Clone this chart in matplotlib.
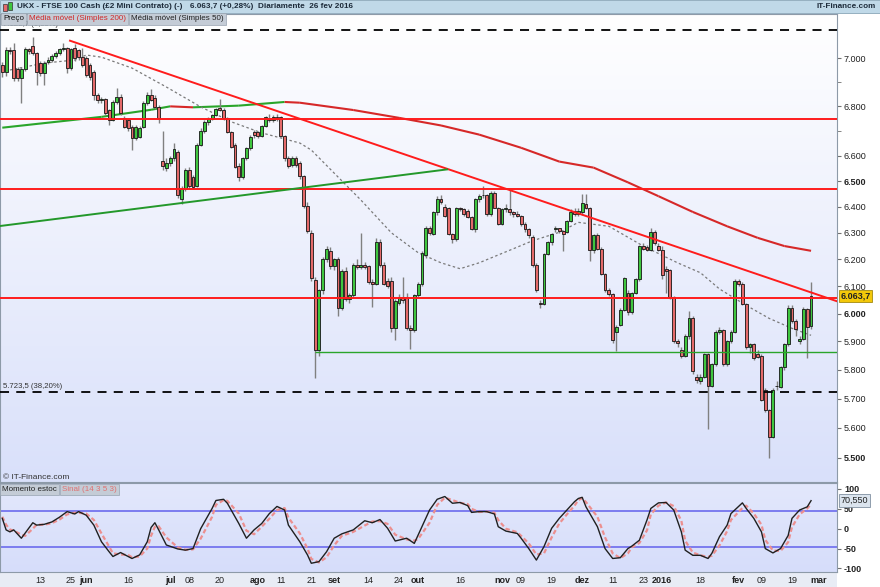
import numpy as np
import pandas as pd
import matplotlib
matplotlib.use("Agg")
import matplotlib.pyplot as plt
from matplotlib.collections import LineCollection
from matplotlib.colors import LinearSegmentedColormap
from matplotlib.patches import Rectangle
from matplotlib.ticker import FixedLocator, NullFormatter

plt.rcParams['font.family'] = ['Liberation Sans', 'DejaVu Sans']

# trading calendar of the CFD (UK bank holidays have no candle)
uk_holidays = ['2015-05-04', '2015-05-25', '2015-08-31', '2015-12-25', '2015-12-28', '2016-01-01']
cal = pd.bdate_range('2015-04-28', '2016-03-01')
cal = cal[~cal.isin(pd.to_datetime(uk_holidays))]

# daily OHLC, 28 Apr 2015 .. 26 Feb 2016
opens = [
    6972, 6942, 7035, 7035, 6955, 6917, 6955, 7038, 7052, 7022, 6980, 6938, 6985, 6992, 7008, 7022, 7038, 7043, 6960, 7043, 7035, 7005,
    7000, 6972, 6942, 6847, 6827, 6830, 6786, 6745, 6818, 6840, 6753, 6745, 6717, 6673, 6677, 6717, 6815, 6847, 6835, 6798, 6580, 6552,
    6572, 6590, 6615, 6430, 6468, 6545, 6515, 6480, 6645, 6700, 6735, 6750, 6765, 6792, 6786, 6753, 6695, 6645, 6560, 6515, 6590, 6630, 6695,
    6695, 6680, 6720, 6752, 6745, 6756, 6755, 6680, 6590, 6565, 6590, 6570, 6520, 6404, 6300, 6122, 5870, 6086, 6200, 6230,
    6175, 6200, 6020, 6155, 6055, 6067, 6177, 6171, 6180, 6175, 6116, 6110, 6265, 6180, 6120, 6120, 5947, 6040, 6060, 6060, 5947, 5941,
    6067, 6110, 6215, 6320, 6296, 6378, 6429, 6400, 6397, 6296, 6277, 6397, 6391, 6385, 6359, 6315, 6429, 6445, 6445, 6372, 6455, 6397,
    6334, 6391, 6391, 6378, 6372, 6366, 6334, 6315, 6283, 6177, 6040, 6035, 6221, 6264, 6315, 6318, 6308, 6305, 6345, 6385, 6372,
    6378, 6410, 6395, 6235, 6290, 6240, 6145, 6085, 6070, 5935, 5960, 6015, 6075, 6005, 6075, 6125, 6250, 6245, 6235, 6305, 6252,
    6235, 6165, 6160, 6060, 5900, 5870, 5850, 5918, 5985, 5775, 5760, 5775, 5855, 5745, 5820, 5935, 5940, 5820, 5900, 5935,
    6120, 6110, 6035, 5880, 5890, 5855, 5850, 5730, 5660, 5570, 5745, 5740, 5810, 5890, 6022, 5972, 5900, 5910, 6016, 5955,
]
highs = [
    6985, 7050, 7048, 7065, 6965, 6965, 7048, 7045, 7090, 7025, 6990, 6990, 7005, 7020, 7030, 7045, 7066, 7050, 7045, 7060, 7040, 7043,
    7010, 6980, 6950, 6855, 6840, 6835, 6790, 6825, 6875, 6850, 6760, 6750, 6725, 6725, 6720, 6820, 6860, 6870, 6845, 6805, 6700, 6590,
    6600, 6650, 6625, 6480, 6550, 6555, 6525, 6650, 6710, 6745, 6755, 6770, 6795, 6830, 6795, 6758, 6700, 6650, 6570, 6595, 6635, 6685, 6705,
    6700, 6725, 6762, 6770, 6765, 6770, 6760, 6685, 6600, 6600, 6600, 6578, 6525, 6420, 6310, 6135, 6090, 6210, 6250, 6245,
    6205, 6210, 6165, 6170, 6075, 6185, 6200, 6300, 6190, 6180, 6125, 6280, 6275, 6190, 6130, 6135, 6055, 6070, 6135, 6075, 5960, 6070,
    6115, 6230, 6325, 6325, 6385, 6440, 6445, 6410, 6400, 6300, 6400, 6400, 6395, 6390, 6365, 6435, 6450, 6480, 6450, 6460, 6460, 6400,
    6395, 6410, 6465, 6385, 6385, 6370, 6340, 6320, 6290, 6185, 6050, 6225, 6270, 6300, 6325, 6320, 6312, 6350, 6390, 6395, 6395,
    6450, 6450, 6400, 6295, 6300, 6245, 6150, 6095, 6075, 5960, 6020, 6135, 6085, 6080, 6130, 6255, 6260, 6255, 6320, 6310, 6260,
    6250, 6175, 6165, 6065, 5910, 5880, 5925, 6010, 5990, 5785, 5785, 5860, 5860, 5825, 5940, 5950, 5945, 5905, 5940, 6125,
    6125, 6115, 6040, 5895, 5895, 5870, 5855, 5735, 5665, 5735, 5760, 5815, 5895, 6030, 6030, 5980, 5920, 6025, 6020, 6115,
]
lows = [
    6920, 6925, 7020, 6905, 6905, 6815, 6948, 7018, 7015, 6888, 6925, 6888, 6975, 6985, 7000, 7015, 7030, 6938, 6950, 6990, 6995, 6965,
    6920, 6910, 6827, 6815, 6815, 6765, 6725, 6740, 6810, 6765, 6710, 6700, 6625, 6665, 6670, 6710, 6805, 6820, 6790, 6733, 6545, 6540,
    6560, 6580, 6435, 6410, 6460, 6470, 6470, 6475, 6640, 6690, 6725, 6745, 6760, 6780, 6745, 6690, 6630, 6550, 6500, 6508, 6585, 6625, 6670,
    6672, 6675, 6715, 6735, 6738, 6740, 6675, 6580, 6550, 6555, 6555, 6510, 6395, 6300, 6120, 5771, 5850, 6070, 6190, 6165,
    6160, 5990, 6015, 6045, 6040, 6060, 6165, 6165, 6165, 6110, 6025, 6105, 6170, 6105, 6095, 5935, 5905, 6030, 6040, 5940, 5875, 5935,
    6060, 6100, 6205, 6290, 6290, 6370, 6410, 6360, 6290, 6262, 6270, 6385, 6365, 6355, 6310, 6305, 6420, 6435, 6365, 6365, 6395, 6330,
    6330, 6380, 6370, 6360, 6360, 6325, 6305, 6280, 6170, 6080, 6020, 6030, 6215, 6255, 6305, 6300, 6230, 6300, 6340, 6365, 6365,
    6370, 6390, 6195, 6225, 6235, 6140, 6080, 6065, 5895, 5865, 5955, 6010, 5995, 6000, 6070, 6120, 6235, 6230, 6230, 6255, 6230,
    6125, 6075, 6055, 5895, 5880, 5840, 5845, 5910, 5785, 5755, 5750, 5770, 5595, 5740, 5815, 5925, 5815, 5815, 5895, 5930,
    6100, 6030, 5875, 5860, 5835, 5840, 5690, 5655, 5500, 5565, 5730, 5735, 5800, 5885, 5965, 5920, 5890, 5905, 5840, 5945,
]
closes = [
    6942, 7035, 7032, 6917, 6917, 6955, 7038, 7030, 7022, 6942, 6938, 6980, 6995, 7010, 7022, 7038, 7043, 6960, 7038, 7000, 7005, 6972,
    6930, 6922, 6847, 6827, 6830, 6774, 6745, 6818, 6840, 6774, 6717, 6713, 6673, 6717, 6713, 6815, 6847, 6827, 6798, 6753, 6558, 6572,
    6590, 6627, 6445, 6468, 6545, 6480, 6478, 6645, 6700, 6735, 6750, 6765, 6790, 6784, 6753, 6695, 6637, 6556, 6515, 6590, 6630, 6677, 6682,
    6680, 6720, 6755, 6745, 6756, 6750, 6680, 6590, 6560, 6590, 6565, 6520, 6404, 6308, 6130, 5870, 6086, 6200, 6240, 6175,
    6200, 6020, 6155, 6055, 6067, 6177, 6171, 6180, 6171, 6116, 6110, 6265, 6177, 6110, 6100, 5947, 6045, 6060, 6050, 5947, 5941, 6067,
    6110, 6225, 6320, 6298, 6378, 6429, 6418, 6366, 6296, 6277, 6397, 6391, 6372, 6359, 6315, 6429, 6442, 6447, 6372, 6455, 6397, 6334,
    6391, 6397, 6378, 6372, 6366, 6334, 6315, 6290, 6177, 6086, 6035, 6221, 6264, 6296, 6318, 6308, 6296, 6345, 6380, 6372, 6385,
    6415, 6395, 6235, 6290, 6240, 6145, 6085, 6070, 5905, 5950, 6015, 6130, 6005, 6075, 6125, 6250, 6240, 6235, 6305, 6260, 6235,
    6140, 6155, 6060, 5900, 5895, 5850, 5918, 5985, 5795, 5765, 5775, 5855, 5745, 5820, 5935, 5940, 5820, 5900, 5935, 6120,
    6110, 6035, 5880, 5890, 5840, 5845, 5695, 5660, 5570, 5730, 5742, 5810, 5890, 6022, 5972, 5945, 5910, 6016, 5950, 6063.7,
]

# moving averages, sampled along the drawn curves (day index, value)
ma200_days = [0, 26, 39, 44, 50, 62, 74, 78, 92, 104, 115, 125, 136, 146, 155, 164, 172, 181, 190, 198, 205, 212]
ma200_vals = [6713, 6757, 6786, 6800, 6796, 6803, 6818, 6815, 6785, 6753, 6722, 6685, 6632, 6577, 6553, 6495, 6441, 6380, 6325, 6281, 6250, 6232]
ma50_days = [2, 11, 19, 22, 26, 34, 43, 52, 60, 68, 78, 81, 94, 102, 109, 115, 120, 125, 134, 139, 146, 151, 159, 168, 177, 183, 188, 195, 201, 207, 212]
ma50_vals = [6951, 6980, 6993, 7014, 7005, 6959, 6880, 6798, 6737, 6692, 6651, 6623, 6426, 6300, 6225, 6187, 6165, 6187, 6240, 6270, 6302, 6340, 6325, 6250, 6187, 6150, 6090, 6030, 5983, 5947, 5922]

# drawn studies: trend lines, horizontal levels, fibonacci levels
red_trend_days = [17.75, 218.8]
red_trend_vals = [7075, 6045]
green_trend_days = [-0.6, 116.6]
green_trend_vals = [6326, 6546]
red_levels = [6750, 6470, 6056]
green_level = 5862
green_level_start = 82
fib_levels = [7122.7, 5723.5]
fib_labels = ['7.122,7 (0,00%)', '5.723,5 (38,20%)']
last_price = 6063.7

# stochastic momentum (14 3 5 3) and its signal
smi_days = [0, 1, 2, 3, 5, 6, 8, 9, 11, 13, 15, 17, 19, 20, 22, 24, 26, 28, 29, 31, 33, 34, 36, 38, 39, 40, 41, 43, 46, 48,
            50, 52, 55, 56, 58, 59, 62, 64, 66, 68, 70, 72, 74, 75, 78, 80, 81, 83, 85, 87, 89, 92, 95, 97, 99, 101, 103, 106, 108, 109,
            112, 114, 116, 118, 120, 122, 123, 125, 127, 129, 130, 132, 135, 136, 138, 140, 142, 144, 146, 148, 150, 151, 152, 153, 156, 158,
            160, 162, 164, 165, 167, 169, 170, 172, 174, 176, 178, 179, 181, 183, 185, 186, 188, 190, 191, 194, 195, 197, 199, 200, 202, 204,
            206, 207, 209, 211, 212]
smi_vals = [26, -3, -8, -3, -24, -11, 15, 9, 11, 17, 29, 43, 37, 43, 34, 9, -33, -58, -70, -60, -70, -75, -66, -33, 3, 15, -3, -41, -51, -54,
            -50, 0, 51, 71, 74, 64, 13, -24, -3, 13, 38, 56, 47, 9, -33, -66, -87, -83, -58, -24, -13, -3, 20, 15, 23, 1, -31, -24, -37, -16,
            47, 74, 81, 64, 66, 58, 41, 43, 43, 37, 5, -6, -12, -24, -50, -79, -45, 1, 26, 47, 68, 76, 79, 55, 5, -50,
            -75, -73, -50, -44, -29, 22, 51, 65, 66, 47, -8, -54, -67, -67, -75, -62, -20, 9, 38, 65, 51, 26, -8, -50, -61, -50,
            -17, 26, 47, 55, 70.55]
signal_vals = [30, 10, -2, -5, -15, -18, 0, 10, 10, 14, 23, 36, 40, 40, 38, 22, -12, -45, -62, -65, -66, -72, -70, -50, -18, 5, 6, -22, -47, -53,
               -52, -25, 30, 60, 72, 70, 38, -5, -14, 5, 25, 47, 52, 28, -12, -50, -76, -85, -72, -42, -18, -8, 8, 18, 19, 12, -15, -27, -30, -26,
               15, 60, 78, 72, 65, 62, 50, 42, 43, 40, 22, 0, -9, -18, -37, -65, -62, -22, 13, 36, 58, 72, 77, 67, 30, -22,
               -62, -74, -62, -47, -36, -4, 36, 58, 66, 57, 20, -30, -60, -67, -71, -68, -42, -6, 22, 52, 58, 38, 10, -28, -55, -56,
               -34, 4, 36, 51, 62]

tick_dates = ['2015-05-13', '2015-05-25', '2015-06-01', '2015-06-16', '2015-07-01', '2015-07-08', '2015-07-20',
              '2015-08-03', '2015-08-11', '2015-08-21', '2015-09-01', '2015-09-14', '2015-09-24', '2015-10-01',
              '2015-10-16', '2015-11-02', '2015-11-09', '2015-11-19', '2015-12-01', '2015-12-11', '2015-12-23',
              '2016-01-04', '2016-01-18', '2016-02-01', '2016-02-09', '2016-02-19', '2016-03-01']
tick_labels = ['13', '25', 'jun', '16', 'jul', '08', '20', 'ago', '11', '21', 'set', '14', '24', 'out',
               '16', 'nov', '09', '19', 'dez', '11', '23', '2016', '18', 'fev', '09', '19', 'mar']
month_labels = {'jun', 'jul', 'ago', 'set', 'out', 'nov', 'dez', '2016', 'fev', 'mar'}

price_ticks = [5500, 5600, 5700, 5800, 5900, 6000, 6100, 6200, 6300, 6400, 6500, 6600, 6800, 7000]
bold_ticks = [5500, 6000, 6500]
price_minor = [6700, 6900]

assert len(opens) == len(highs) == len(lows) == len(closes)
assert len(smi_days) == len(smi_vals) == len(signal_vals)

W, H = 880, 587
fig = plt.figure(figsize=(W / 100, H / 100), dpi=100, facecolor='white')


def box(x0, y0, x1, y1):
    return [x0 / W, 1 - y1 / H, (x1 - x0) / W, (y1 - y0) / H]


xlim = (-0.6, 218.8)

# background gradients
grad = np.linspace(0, 1, 256).reshape(-1, 1)
bg_top = fig.add_axes(box(0, 14, 837, 482), zorder=-2)
bg_top.imshow(grad, cmap=LinearSegmentedColormap.from_list('a', ['#ffffff', '#d9e0fa']), aspect='auto')
bg_top.axis('off')
bg_bot = fig.add_axes(box(0, 483, 837, 572), zorder=-2)
bg_bot.imshow(grad, cmap=LinearSegmentedColormap.from_list('b', ['#e3e8fc', '#d6ddfa']), aspect='auto')
bg_bot.axis('off')
fig.add_artist(Rectangle((0, 0), 837 / W, 15 / H, transform=fig.transFigure, facecolor='#e8ecf5', edgecolor='none', zorder=-3))

ax = fig.add_axes(box(0, 14, 837, 482))
ax2 = fig.add_axes(box(0, 483, 837, 572))
for a in (ax, ax2):
    a.set_facecolor('none')
    for s in a.spines.values():
        s.set_color('#8d9aa8')
        s.set_linewidth(0.8)

ax.set_yscale('log')
ax.set_xlim(*xlim)
ax.set_ylim(5420, 7190)

# moving averages
ma200_pts = np.column_stack([ma200_days, ma200_vals])
segs = np.stack([ma200_pts[:-1], ma200_pts[1:]], axis=1)
seg_cols = np.where(np.diff(ma200_vals) >= 0, '#2aa52a', '#d62828')
ax.add_collection(LineCollection(segs, colors=seg_cols, linewidths=1.5, zorder=2))
ax.plot(ma50_days, ma50_vals, color='#7a7a7a', lw=0.9, ls=(0, (2, 2)), zorder=2)

# candles
x = np.arange(len(closes))
o, h, l, c = (np.array(v, dtype=float) for v in (opens, highs, lows, closes))
up = c >= o
ax.vlines(x, l, h, color='#808080', lw=1.0, zorder=3)
lo = np.minimum(o, c)
ht = np.abs(c - o)
ax.bar(x[up], ht[up], bottom=lo[up], width=0.75, color='#3fc63f', edgecolor='#151515', linewidth=0.6, zorder=4)
ax.bar(x[~up], ht[~up], bottom=lo[~up], width=0.75, color='#e46a6a', edgecolor='#151515', linewidth=0.6, zorder=4)

# studies
for lvl in red_levels:
    ax.axhline(lvl, color='#ff1c1c', lw=1.4, zorder=5)
ax.plot(red_trend_days, red_trend_vals, color='#ff1c1c', lw=1.4, zorder=5)
ax.plot(green_trend_days, green_trend_vals, color='#23982a', lw=1.4, zorder=5)
ax.hlines(green_level, green_level_start, xlim[1], color='#2aa52a', lw=1.0, zorder=5)
for lvl, lab in zip(fib_levels, fib_labels):
    ax.axhline(lvl, color='black', lw=1.3, ls=(0, (5, 4)), zorder=5)
    ax.text(0.003, lvl * 1.0008, lab, transform=ax.get_yaxis_transform(), fontsize=5.6,
            color='#333333', va='bottom', ha='left', zorder=6)
ax.set_xlim(*xlim)

# price axis on the right
ax.yaxis.tick_right()
ax.yaxis.set_major_locator(FixedLocator(price_ticks))
ax.yaxis.set_minor_locator(FixedLocator(price_minor))
ax.yaxis.set_minor_formatter(NullFormatter())
ax.set_yticklabels([f"{v:,}".replace(',', '.') for v in price_ticks])
for t, v in zip(ax.get_yticklabels(), price_ticks):
    if v in bold_ticks:
        t.set_fontweight('bold')
ax.tick_params(axis='y', which='both', direction='out', length=3, color='#707070',
               labelsize=6.5, labelcolor='#222222', pad=2)
ax.tick_params(axis='x', bottom=False, labelbottom=False)
ax.text(1.004, last_price, f"{last_price:,.1f}".replace(',', 'X').replace('.', ',').replace('X', '.'),
        transform=ax.get_yaxis_transform(), fontsize=6.5, fontweight='bold', va='center', ha='left',
        color='#222222', clip_on=False, zorder=10,
        bbox=dict(boxstyle='square,pad=0.2', fc='#f3c80a', ec='#a48a10', lw=0.6))
ax.text(0.004, 0.006, '© IT-Finance.com', transform=ax.transAxes, fontsize=6, color='#333333')

# stochastic panel
ax2.set_xlim(*xlim)
ax2.set_ylim(-109, 115)
ax2.axhline(45, color='#7c7cef', lw=1.4, zorder=2)
ax2.axhline(-45, color='#7c7cef', lw=1.4, zorder=2)
ax2.plot(smi_days, signal_vals, color='#ec8f8f', lw=1.6, ls=(0, (2, 1.2)), zorder=3)
ax2.plot(smi_days, smi_vals, color='#202020', lw=1.0, zorder=4)
ax2.yaxis.tick_right()
ax2.set_yticks([-100, -50, 0, 50, 100])
ax2.set_yticklabels(['-100', '-50', '0', '50', '100'], fontweight='bold')
ax2.tick_params(axis='y', direction='out', length=3, color='#707070', labelsize=6.5, labelcolor='#222222', pad=2)
ax2.text(1.004, smi_vals[-1], '70,550', transform=ax2.get_yaxis_transform(), fontsize=6.5, va='center',
         ha='left', color='#222222', clip_on=False, zorder=10,
         bbox=dict(boxstyle='square,pad=0.2', fc='#dbe4ee', ec='#8090a0', lw=0.6))

tick_pos = cal.searchsorted(pd.to_datetime(tick_dates))
ax2.set_xticks(tick_pos)
ax2.set_xticklabels(tick_labels)
for t, lab in zip(ax2.get_xticklabels(), tick_labels):
    if lab in month_labels:
        t.set_fontweight('bold')
ax2.tick_params(axis='x', length=0, labelsize=6.5, labelcolor='#222222', pad=3)

# header bar
fig.add_artist(Rectangle((0, 1 - 13 / H), 1, 13 / H, transform=fig.transFigure,
                         facecolor='#c0d9e8', edgecolor='#8aa6b8', lw=0.6, zorder=8))
fig.add_artist(Rectangle((3 / W, 1 - 11 / H), 4 / W, 7 / H, transform=fig.transFigure,
                         facecolor='#e46a6a', edgecolor='#333333', lw=0.5, zorder=9))
fig.add_artist(Rectangle((8 / W, 1 - 10 / H), 4 / W, 8 / H, transform=fig.transFigure,
                         facecolor='#3fc63f', edgecolor='#333333', lw=0.5, zorder=9))
hy = 1 - 6.5 / H
head_kw = dict(fontsize=5.9, fontweight='bold', color='#1d2b3a', va='center', zorder=9)
fig.text(17 / W, hy, 'UKX - FTSE 100 Cash (£2 Mini Contrato) (-)', **head_kw)
fig.text(190 / W, hy, '6.063,7 (+0,28%)', **head_kw)
fig.text(258 / W, hy, 'Diariamente  26 fev 2016', **head_kw)
fig.text(876 / W, hy, 'IT-Finance.com', ha='right', **head_kw)

# legend tags, laid side by side
renderer = fig.canvas.get_renderer()


def tag_row(items, x0, y_px, size):
    xpos = x0
    pad = 0.25
    for txt, col in items:
        t = fig.text(xpos / W, 1 - y_px / H, txt, fontsize=size, color=col, va='center', zorder=9,
                     bbox=dict(boxstyle=f'square,pad={pad}', fc='#c4ccd6', ec='#97a3b0', lw=0.5))
        wpx = t.get_window_extent(renderer).width
        xpos += wpx + 2 * pad * size * 100 / 72 + 1


tag_row([('Preço', '#111111'), ('Média móvel (Simples 200)', '#d02828'),
         ('Média móvel (Simples 50)', '#222222')], 3, 19.0, 5.8)
tag_row([('Momento estoc', '#222222'), ('Sinal (14 3 5 3)', '#e07070')], 2, 489.5, 5.8)

fig.savefig('out.png', dpi=100)
